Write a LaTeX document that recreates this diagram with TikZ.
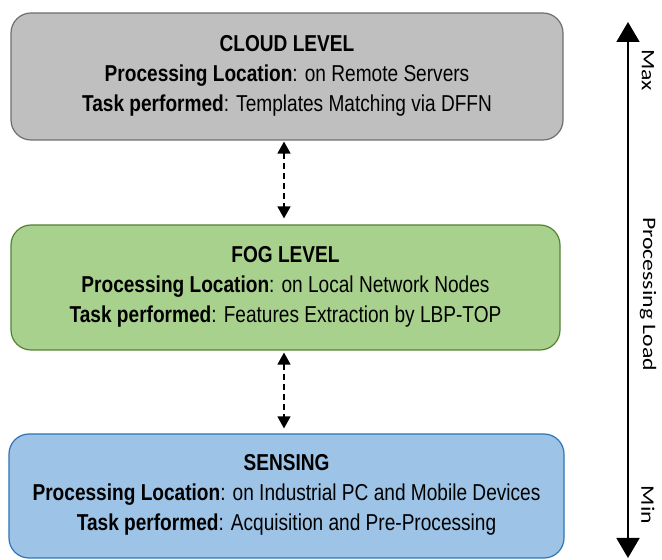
\documentclass[tikz,border=0pt]{standalone}
\usepackage{fontspec}
\setmainfont{Liberation Sans}[FakeStretch=0.83]
\newfontfamily\axisfont{Carlito}[FakeStretch=1.25]
\usetikzlibrary{arrows.meta,positioning}

\definecolor{cloudfill}{RGB}{191,191,191}
\definecolor{cloudline}{RGB}{110,110,110}
\definecolor{fogfill}{RGB}{169,209,142}
\definecolor{fogline}{RGB}{84,130,53}
\definecolor{sensefill}{RGB}{157,195,230}
\definecolor{senseline}{RGB}{46,117,182}

\begin{document}
\begin{tikzpicture}[x=1pt,y=1pt,>=Latex,
  every node/.style={font=\fontsize{23}{30}\selectfont},
  level/.style={draw,line width=1.2pt,rounded corners=20pt,align=center,
    inner sep=0pt},
  link/.style={<->,line width=1.4pt,dash pattern=on 6pt off 4pt,
    >={Triangle[length=12pt,width=13pt]}},
  axislabel/.style={rotate=-90,font=\axisfont\fontsize{19}{20}\selectfont}]
\useasboundingbox (0,0) rectangle (662,560);
\node[level,fill=cloudfill,draw=cloudline,minimum width=552,minimum height=127]
  (cloud) at (287,483.5) {\textbf{CLOUD LEVEL}\\
  \textbf{Processing Location}: on Remote Servers\\
  \textbf{Task performed}: Templates Matching via DFFN\\[-23pt]};
\node[level,fill=fogfill,draw=fogline,minimum width=549,minimum height=125]
  (fog) at (285.5,272.5) {\textbf{FOG LEVEL}\\
  \textbf{Processing Location}: on Local Network Nodes\\
  \textbf{Task performed}: Features Extraction by LBP-TOP\\[-23pt]};
\node[level,fill=sensefill,draw=senseline,minimum width=555,minimum height=124]
  (sensing) at (286.5,64) {\textbf{SENSING}\\
  \textbf{Processing Location}: on Industrial PC and Mobile Devices\\
  \textbf{Task performed}: Acquisition and Pre-Processing\\[-23pt]};
\draw[link,shorten <=1pt,shorten >=6pt] ([xshift=-3pt]cloud.south) -- ([xshift=-1.5pt]fog.north);
\draw[link,shorten <=2pt,shorten >=5pt] ([xshift=-1.5pt]fog.south) -- ([xshift=-2.5pt]sensing.north);
\coordinate (maxend) at (628,538);
\coordinate (minend) at (628,2);
\draw[line width=1.8pt,{Triangle[length=20pt,width=23pt]}-{Triangle[length=20pt,width=23pt]}]
  (maxend) -- (minend);
\node[axislabel] (max) at (648,490) {Max};
\node[axislabel] (load) at (648,266) {Processing Load};
\node[axislabel] (min) at (648,55) {Min};
\end{tikzpicture}
\end{document}
